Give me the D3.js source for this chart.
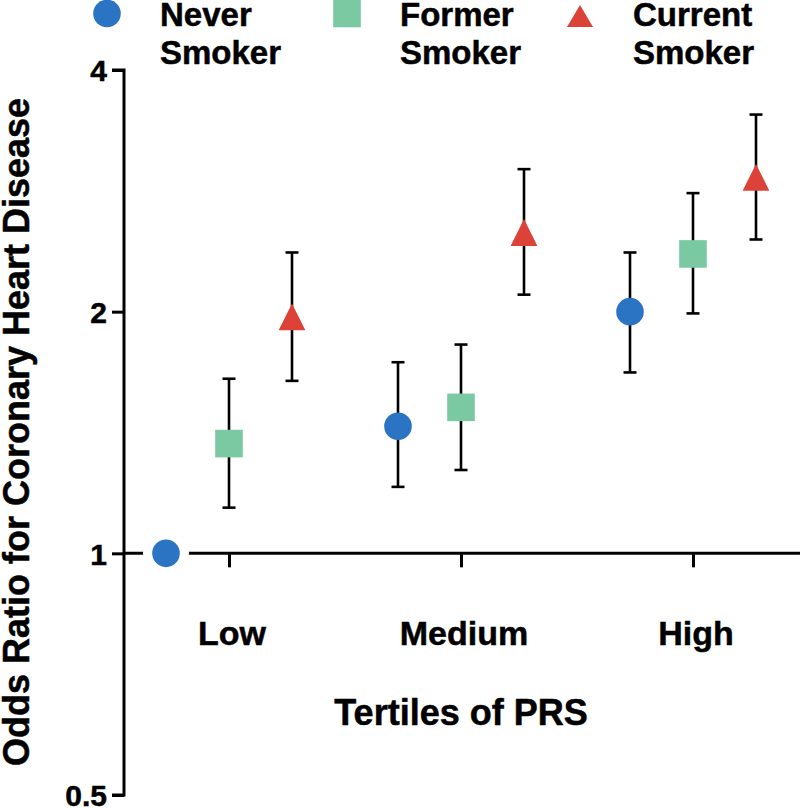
<!DOCTYPE html>
<html>
<head>
<meta charset="utf-8">
<script src="https://cdn.jsdelivr.net/npm/d3@7"></script>
<style>
  html, body { margin: 0; padding: 0; background: #fff; }
  svg { display: block; }
  text { font-family: "Liberation Sans", Arial, Helvetica, sans-serif; font-weight: bold; fill: #000; stroke: #000; stroke-width: 0.5px; }
</style>
</head>
<body>
<svg id="chart" width="800" height="808"></svg>
<script>
// ---- data ----
const categories = ["Low", "Medium", "High"];
const seriesNames = ["Never Smoker", "Former Smoker", "Current Smoker"];
const seriesColors = ["#2a74c3", "#7bc9a2", "#dc4238"];
const seriesShapes = ["circle", "square", "triangle"];
// odds ratios per category (Low, Medium, High)
const neverOR   = [1.00, 1.44, 2.00];
const neverLo   = [null, 1.21, 1.68];
const neverHi   = [null, 1.73, 2.37];
const formerOR  = [1.37, 1.52, 2.36];
const formerLo  = [1.14, 1.27, 1.99];
const formerHi  = [1.65, 1.82, 2.81];
const currentOR = [1.97, 2.51, 2.94];
const currentLo = [1.64, 2.10, 2.46];
const currentHi = [2.37, 3.01, 3.52];
const yTicks = [0.5, 1, 2, 4];
const yTickLabels = ["0.5", "1", "2", "4"];
const xTitle = "Tertiles of PRS";
const yTitle = "Odds Ratio for Coronary Heart Disease";

const seriesData = [
  { name: seriesNames[0], or: neverOR, lo: neverLo, hi: neverHi },
  { name: seriesNames[1], or: formerOR, lo: formerLo, hi: formerHi },
  { name: seriesNames[2], or: currentOR, lo: currentLo, hi: currentHi }
];

// ---- layout ----
const svg = d3.select("#chart");
const axisX = 124;
const y = d3.scaleLog().base(2).domain([0.5, 4]).range([795, 70]);
const x = d3.scalePoint().domain(categories).range([229, 693]);
const off = d3.scalePoint().domain(seriesNames).range([-63, 63]);

const points = [];
seriesData.forEach((s, si) => {
  categories.forEach((c, ci) => {
    points.push({ series: s.name, si, cat: c, v: s.or[ci], lo: s.lo[ci], hi: s.hi[ci] });
  });
});

function drawMarker(g, shape, cx, cy, color) {
  if (shape === "circle") {
    g.append("circle").attr("cx", cx).attr("cy", cy).attr("r", 13.8).attr("fill", color);
  } else if (shape === "square") {
    const h = 13.8;
    g.append("rect").attr("x", cx - h).attr("y", cy - h).attr("width", 2 * h).attr("height", 2 * h).attr("fill", color);
  } else {
    const w = 13.4, hh = 13.4;
    g.append("path")
      .attr("d", `M${cx},${cy - hh}L${cx + w},${cy + hh}L${cx - w},${cy + hh}Z`)
      .attr("fill", color);
  }
}

// ---- y axis ----
const yAxisG = svg.append("g").attr("transform", `translate(${axisX},0)`)
  .call(d3.axisLeft(y).tickValues(yTicks).tickFormat((d, i) => yTickLabels[i]).tickSize(12).tickPadding(5));
yAxisG.select(".domain").attr("d", `M-12,${y(4)}H0V${y(0.5)}H-12`).attr("stroke", "#000").attr("stroke-width", 3).attr("fill", "none");
yAxisG.selectAll(".tick line").attr("stroke", "#000").attr("stroke-width", 3);
yAxisG.selectAll(".tick text").attr("font-size", 30).attr("font-family", "Liberation Sans, Arial, sans-serif").attr("font-weight", "bold").attr("fill", "#000").attr("dy", "0.36em");

// ---- x axis (crosses at 1) ----
const xAxisG = svg.append("g").attr("transform", `translate(0,${y(1)})`)
  .call(d3.axisBottom(x).tickSize(14).tickFormat(""));
xAxisG.select(".domain").attr("d", `M${axisX},0H800`).attr("stroke", "#000").attr("stroke-width", 3);
xAxisG.selectAll(".tick line").attr("stroke", "#000").attr("stroke-width", 3);
xAxisG.selectAll(".tick text").remove();

svg.append("g").selectAll("text").data(categories).join("text")
  .attr("x", d => x(d) + 3).attr("y", 645)
  .attr("text-anchor", "middle").attr("font-size", 34).text(d => d);

// ---- axis titles ----
svg.append("text").attr("x", 461).attr("y", 725).attr("text-anchor", "middle")
  .attr("font-size", 36).text(xTitle);
svg.append("text").attr("transform", `translate(29,432) rotate(-90)`).attr("text-anchor", "middle")
  .attr("font-size", 36).text(yTitle);

// ---- halos (white), then error bars, then markers ----
const plotG = svg.append("g");
points.forEach(p => {
  plotG.append("circle").attr("cx", x(p.cat) + off(p.series)).attr("cy", y(p.v)).attr("r", 23).attr("fill", "#fff");
});
points.filter(p => p.lo != null).forEach(p => {
  const cx = x(p.cat) + off(p.series);
  const g = plotG.append("g").attr("stroke", "#000").attr("stroke-width", 2.6);
  g.append("line").attr("x1", cx).attr("x2", cx).attr("y1", y(p.lo)).attr("y2", y(p.hi));
  g.append("line").attr("x1", cx - 6.5).attr("x2", cx + 6.5).attr("y1", y(p.lo)).attr("y2", y(p.lo));
  g.append("line").attr("x1", cx - 6.5).attr("x2", cx + 6.5).attr("y1", y(p.hi)).attr("y2", y(p.hi));
});
points.forEach(p => {
  drawMarker(plotG, seriesShapes[p.si], x(p.cat) + off(p.series), y(p.v), seriesColors[p.si]);
});

// ---- legend ----
const legendX = [107, 347, 580];
const legendG = svg.append("g");
seriesNames.forEach((n, i) => {
  const shape = seriesShapes[i];
  if (shape === "triangle") {
    legendG.append("path")
      .attr("d", `M${legendX[i]},5L${legendX[i] + 13},27L${legendX[i] - 13},27Z`)
      .attr("fill", seriesColors[i]);
  } else {
    drawMarker(legendG, shape, legendX[i], 13.5, seriesColors[i]);
  }
  const words = n.split(" ");
  const t = legendG.append("text").attr("font-size", 33);
  t.append("tspan").attr("x", legendX[i] + 53).attr("y", 26).text(words[0]);
  t.append("tspan").attr("x", legendX[i] + 53).attr("y", 64).text(words[1]);
});
</script>
</body>
</html>
